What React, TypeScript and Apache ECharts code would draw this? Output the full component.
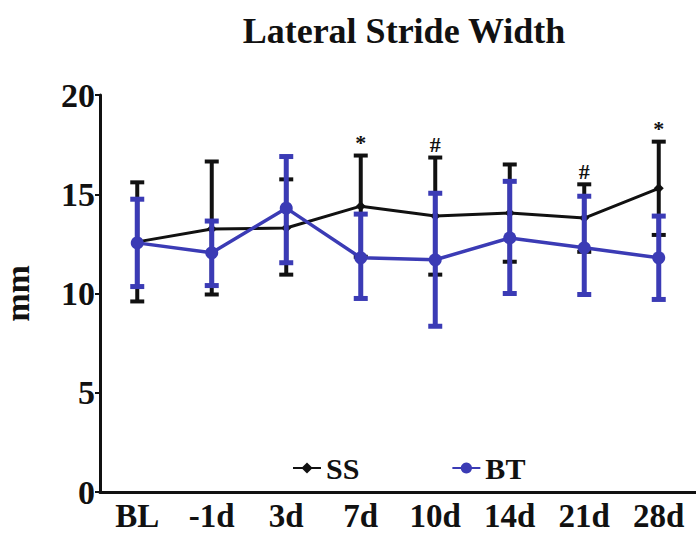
import React, { useEffect, useRef } from "react";
import * as echarts from "echarts";

const categories = ["BL", "-1d", "3d", "7d", "10d", "14d", "21d", "28d"];
const ssMean = [12.6, 13.25, 13.3, 14.4, 13.9, 14.05, 13.8, 15.3];
const ssUpper = [15.6, 16.65, 15.75, 16.95, 16.85, 16.5, 15.5, 17.65];
const ssLower = [9.6, 9.95, 10.95, 11.85, 10.95, 11.6, 12.1, 12.95];
const btMean = [12.55, 12.05, 14.3, 11.8, 11.7, 12.8, 12.3, 11.8];
const btUpper = [14.75, 13.65, 16.9, 14.0, 15.05, 15.65, 14.9, 13.9];
const btLower = [10.35, 10.4, 11.55, 9.75, 8.35, 10.0, 9.95, 9.7];
const marks = ["", "", "", "*", "#", "", "#", "*"];
const yTicks = [0, 5, 10, 15, 20];

const FONT = "'Liberation Serif', 'Times New Roman', serif";
const BLUE = "#3b3bb5";

function errData(lower: number[], upper: number[]) {
  return categories.map((_, i) => [i, lower[i], upper[i], marks[i]]);
}

function makeRender(color: string, width: number, capHalf: number, showMarks: boolean) {
  return (params: any, api: any) => {
    const i = api.value(0);
    const lo = api.coord([i, api.value(1)]);
    const hi = api.coord([i, api.value(2)]);
    const children: any[] = [
      { type: "line", shape: { x1: hi[0], y1: hi[1], x2: lo[0], y2: lo[1] }, style: { stroke: color, lineWidth: width } },
      { type: "line", shape: { x1: hi[0] - capHalf, y1: hi[1], x2: hi[0] + capHalf, y2: hi[1] }, style: { stroke: color, lineWidth: width } },
      { type: "line", shape: { x1: lo[0] - capHalf, y1: lo[1], x2: lo[0] + capHalf, y2: lo[1] }, style: { stroke: color, lineWidth: width } },
    ];
    const m = showMarks ? marks[params.dataIndex] : "";
    if (m) {
      children.push({
        type: "text",
        x: hi[0],
        y: hi[1] - 13,
        style: {
          text: m,
          fill: "#111",
          font: `bold 22px ${FONT}`,
          align: "center",
          verticalAlign: "middle",
        },
      });
    }
    return { type: "group", children };
  };
}

export default function App() {
  const ref = useRef<HTMLDivElement>(null);
  useEffect(() => {
    if (!ref.current) return;
    const chart = echarts.init(ref.current, null, { renderer: "svg" });
    chart.setOption({
      animation: false,
      backgroundColor: "#ffffff",
      title: {
        text: "Lateral Stride Width",
        left: 399,
        textAlign: "center",
        top: 8,
        textStyle: { fontFamily: FONT, fontWeight: "bold", fontSize: 36, color: "#111" },
      },
      legend: {
        data: ["SS", "BT"],
        left: 287,
        top: 448,
        itemGap: 92,
        itemWidth: 28,
        itemHeight: 14,
        textStyle: { fontFamily: FONT, fontWeight: "bold", fontSize: 30, color: "#111" },
      },
      grid: { left: 100, right: 0, top: 95, bottom: 45, outerBoundsMode: "none", containLabel: false },
      xAxis: {
        type: "category",
        data: categories,
        boundaryGap: true,
        axisLine: { lineStyle: { color: "#111", width: 3 } },
        axisTick: { alignWithLabel: true, length: 5, lineStyle: { color: "#111", width: 2 } },
        axisLabel: { fontFamily: FONT, fontWeight: "bold", fontSize: 33, color: "#111", margin: 7, interval: 0 },
      },
      yAxis: {
        type: "value",
        min: yTicks[0],
        max: yTicks[yTicks.length - 1],
        interval: 5,
        name: "mm",
        nameLocation: "middle",
        nameGap: 66,
        nameRotate: 90,
        nameTextStyle: { fontFamily: FONT, fontWeight: "bold", fontSize: 34, color: "#111" },
        splitLine: { show: false },
        axisLine: { show: true, lineStyle: { color: "#111", width: 3 } },
        axisTick: { show: true, length: 5, lineStyle: { color: "#111", width: 2 } },
        axisLabel: { fontFamily: FONT, fontWeight: "bold", fontSize: 34, color: "#111", margin: 5 },
      },
      series: [
        {
          name: "SS err",
          type: "custom",
          data: errData(ssLower, ssUpper),
          encode: { x: 0, y: [1, 2] },
          renderItem: makeRender("#111", 4, 7, true),
          z: 2,
        },
        {
          name: "SS",
          type: "line",
          data: ssMean,
          symbol: "diamond",
          symbolSize: 10,
          itemStyle: { color: "#111" },
          lineStyle: { color: "#111", width: 3 },
          z: 3,
        },
        {
          name: "BT err",
          type: "custom",
          data: errData(btLower, btUpper),
          encode: { x: 0, y: [1, 2] },
          renderItem: makeRender(BLUE, 5, 7, false),
          z: 4,
        },
        {
          name: "BT",
          type: "line",
          data: btMean,
          symbol: "circle",
          symbolSize: 13,
          itemStyle: { color: BLUE },
          lineStyle: { color: BLUE, width: 3.5 },
          z: 5,
        },
      ],
    });
    return () => chart.dispose();
  }, []);
  return <div ref={ref} style={{ width: 696, height: 537, position: "absolute", left: 0, top: 0 }} />;
}
